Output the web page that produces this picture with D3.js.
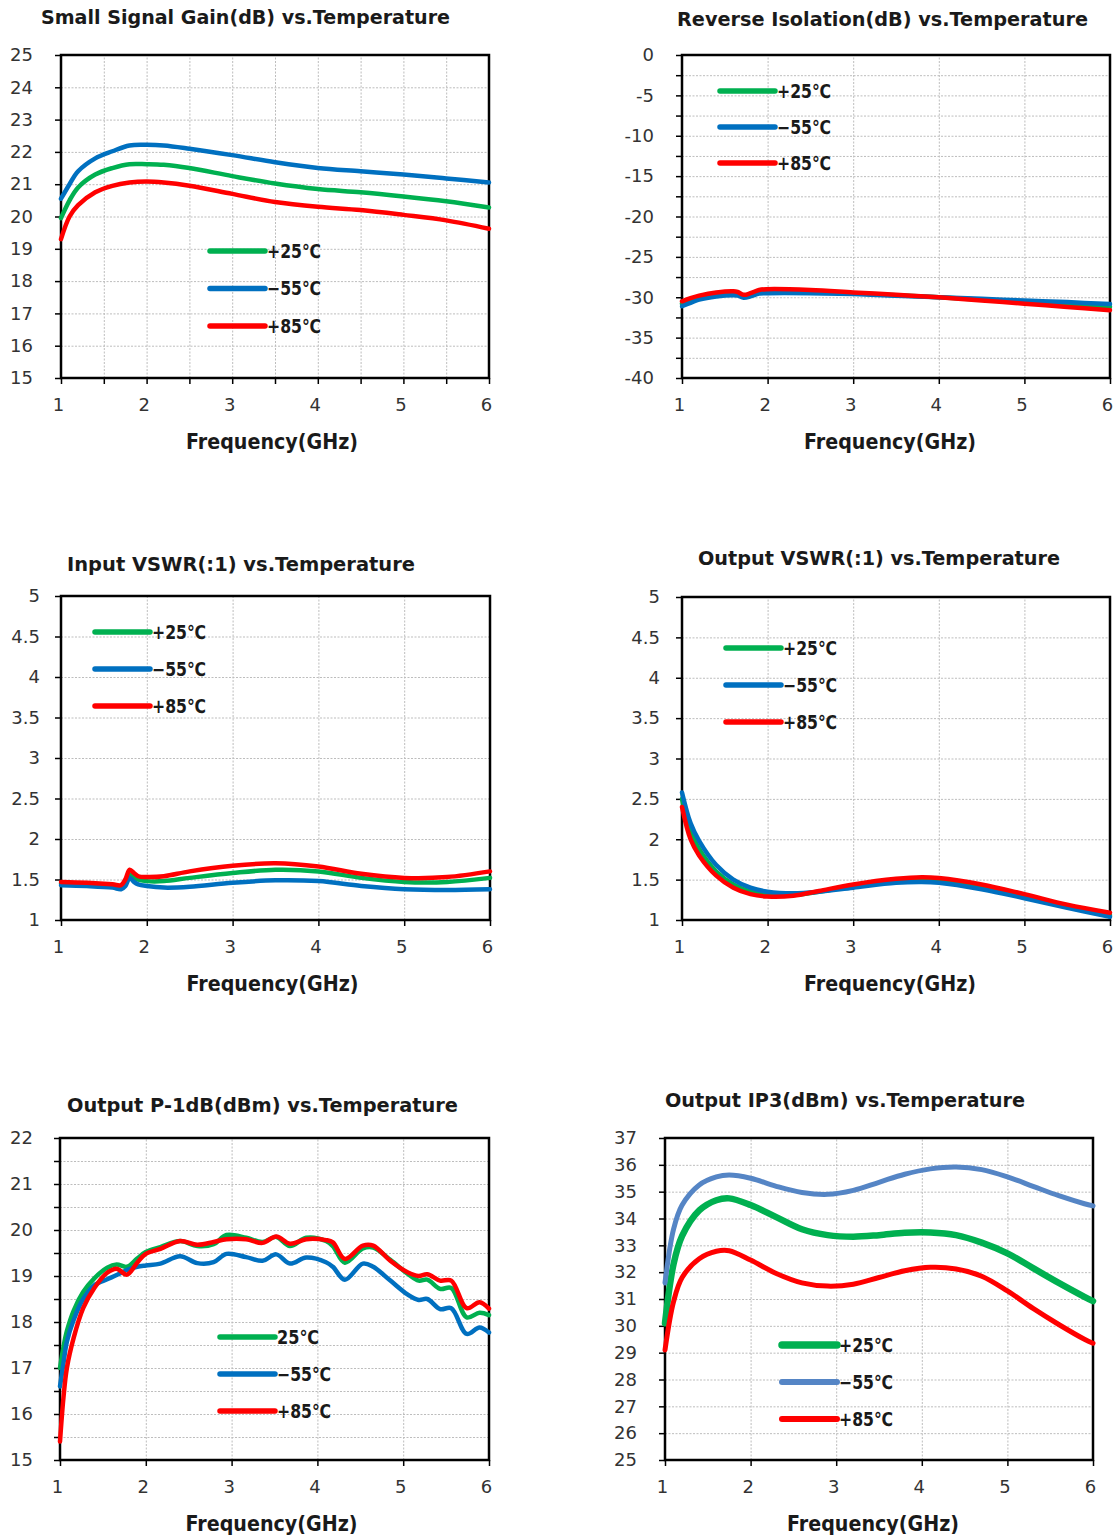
<!DOCTYPE html>
<html>
<head>
<meta charset="utf-8">
<script src="https://cdn.jsdelivr.net/npm/d3@7"></script>
<style>
    body { margin: 0; background: #ffffff; }
    .tickLabel text { font-family: "DejaVu Sans", Verdana, sans-serif; font-size: 18px; fill: #333333; }
    .gridlines line { stroke: #bdbdbd; stroke-width: 1px; stroke-dasharray: 2, 1.5; }
    .minorTicks line { stroke: #000000; stroke-width: 1.5px; }
    .chartTitle, .axesLabel, .legendLabel { font-family: "DejaVu Sans", Verdana, sans-serif; font-weight: bold; fill: #1a1a1a; }
</style>
</head>
<body>
<svg id="sheet" width="1117" height="1537"></svg>
<script>
// series labels
let seriesNames = ["+25\u2103", "\u221255\u2103", "+85\u2103"];
let p1dbNames = ["25\u2103", "\u221255\u2103", "+85\u2103"];

// Small Signal Gain (dB)
let gainFreq = [1, 1.1, 1.2, 1.4, 1.6, 1.8, 2.0, 2.2, 2.5, 3.0, 3.5, 4.0, 4.5, 5.0, 5.5, 6.0];
let gain25 = [19.95, 20.5, 20.9, 21.3, 21.5, 21.62, 21.62, 21.6, 21.5, 21.25, 21.02, 20.85, 20.75, 20.62, 20.47, 20.28];
let gainM55 = [20.55, 21.0, 21.4, 21.8, 22.02, 22.2, 22.22, 22.2, 22.1, 21.9, 21.68, 21.5, 21.4, 21.3, 21.18, 21.05];
let gain85 = [19.3, 20.0, 20.35, 20.75, 20.95, 21.05, 21.08, 21.05, 20.95, 20.7, 20.45, 20.3, 20.2, 20.05, 19.88, 19.62];

// Reverse Isolation (dB)
let isoFreq = [1, 1.1, 1.2, 1.4, 1.6, 1.65, 1.72, 1.8, 1.9, 2.0, 2.5, 3.0, 3.5, 4.0, 4.5, 5.0, 5.5, 6.0];
let iso25 = [-30.8, -30.4, -30.05, -29.65, -29.5, -29.55, -29.85, -29.7, -29.35, -29.25, -29.3, -29.5, -29.75, -30.0, -30.3, -30.6, -30.9, -31.2];
let isoM55 = [-31.1, -30.7, -30.3, -29.9, -29.75, -29.8, -30.05, -29.9, -29.55, -29.5, -29.5, -29.6, -29.8, -30.0, -30.2, -30.4, -30.6, -30.85];
let iso85 = [-30.5, -30.1, -29.8, -29.4, -29.25, -29.35, -29.7, -29.5, -29.1, -29.0, -29.1, -29.4, -29.7, -30.0, -30.4, -30.8, -31.2, -31.6];

// Input VSWR
let inFreq = [1, 1.3, 1.6, 1.7, 1.75, 1.8, 1.85, 1.9, 2.0, 2.2, 2.5, 3.0, 3.5, 4.0, 4.5, 5.0, 5.5, 6.0];
let in25 = [1.45, 1.44, 1.42, 1.41, 1.46, 1.56, 1.52, 1.5, 1.48, 1.48, 1.52, 1.58, 1.62, 1.6, 1.52, 1.47, 1.47, 1.52];
let inM55 = [1.43, 1.42, 1.4, 1.38, 1.42, 1.52, 1.47, 1.44, 1.42, 1.4, 1.41, 1.46, 1.49, 1.48, 1.42, 1.38, 1.37, 1.38];
let in85 = [1.47, 1.46, 1.44, 1.43, 1.5, 1.62, 1.58, 1.54, 1.53, 1.54, 1.6, 1.67, 1.70, 1.66, 1.57, 1.52, 1.53, 1.6];

// Output VSWR
let outFreq = [1, 1.1, 1.2, 1.4, 1.6, 1.8, 2.0, 2.3, 2.6, 3.0, 3.5, 3.8, 4.0, 4.5, 5.0, 5.5, 6.0];
let out25 = [2.5, 2.1, 1.88, 1.6, 1.44, 1.35, 1.31, 1.31, 1.35, 1.42, 1.48, 1.5, 1.49, 1.41, 1.29, 1.17, 1.06];
let outM55 = [2.58, 2.2, 1.98, 1.68, 1.5, 1.4, 1.35, 1.33, 1.35, 1.4, 1.46, 1.47, 1.46, 1.38, 1.27, 1.15, 1.04];
let out85 = [2.4, 2.0, 1.8, 1.55, 1.4, 1.32, 1.29, 1.3, 1.36, 1.44, 1.51, 1.53, 1.52, 1.44, 1.32, 1.19, 1.09];

// Output P-1dB (dBm)
let p1Freq = [1.0, 1.04, 1.08, 1.16, 1.27, 1.4, 1.55, 1.66, 1.78, 1.9, 2.0, 2.17, 2.4, 2.6, 2.79, 2.94, 3.17, 3.36, 3.52, 3.68, 3.87, 4.1, 4.18, 4.32, 4.53, 4.65, 4.85, 5.05, 5.18, 5.28, 5.43, 5.56, 5.74, 5.89, 6.0];
let p125 = [17.0, 17.45, 17.8, 18.25, 18.65, 18.95, 19.18, 19.25, 19.2, 19.38, 19.52, 19.63, 19.76, 19.65, 19.69, 19.89, 19.83, 19.74, 19.85, 19.65, 19.83, 19.76, 19.65, 19.29, 19.6, 19.62, 19.35, 19.05, 18.9, 18.92, 18.72, 18.74, 18.1, 18.2, 18.15];
let p1M55 = [16.6, 17.1, 17.57, 18.05, 18.5, 18.8, 18.93, 19.02, 19.13, 19.2, 19.23, 19.27, 19.43, 19.28, 19.3, 19.48, 19.41, 19.33, 19.47, 19.27, 19.4, 19.3, 19.2, 18.92, 19.27, 19.2, 18.9, 18.6, 18.48, 18.5, 18.28, 18.3, 17.74, 17.88, 17.77];
let p185 = [15.4, 16.35, 17.0, 17.66, 18.3, 18.74, 19.07, 19.16, 19.03, 19.29, 19.48, 19.59, 19.76, 19.68, 19.74, 19.8, 19.8, 19.72, 19.86, 19.7, 19.8, 19.78, 19.73, 19.37, 19.66, 19.66, 19.33, 19.08, 19.0, 19.04, 18.9, 18.9, 18.3, 18.43, 18.29];

// Output IP3 (dBm)
let ip3Freq = [1, 1.1, 1.2, 1.4, 1.6, 1.75, 2.0, 2.3, 2.6, 2.9, 3.2, 3.5, 3.8, 4.1, 4.4, 4.7, 5.0, 5.3, 5.6, 5.9, 6.0];
let ip325 = [30.1, 32.3, 33.35, 34.3, 34.68, 34.75, 34.5, 34.05, 33.6, 33.38, 33.32, 33.38, 33.47, 33.48, 33.38, 33.1, 32.7, 32.15, 31.6, 31.08, 30.92];
let ip3M55 = [31.6, 33.6, 34.5, 35.25, 35.55, 35.62, 35.5, 35.2, 34.97, 34.9, 35.05, 35.35, 35.65, 35.85, 35.92, 35.82, 35.55, 35.2, 34.85, 34.55, 34.47];
let ip385 = [29.1, 30.9, 31.8, 32.5, 32.78, 32.8, 32.45, 31.95, 31.6, 31.48, 31.55, 31.8, 32.05, 32.18, 32.12, 31.85, 31.3, 30.65, 30.05, 29.5, 29.35];

let freqTicks = [1, 2, 3, 4, 5, 6];

let sheet = d3.select("svg#sheet");

let panels = [
    { title: "Small Signal Gain(dB) vs.Temperature", titleX: 41, titleY: 17, titleW: 409,
      box: [61, 55, 489, 378], yDom: [15, 25], yLabelStep: 1, yGridStep: 1, xGridStep: 0.5, labelGap: 28,
      legX: 210, legY: 251, legDy: 37.5, names: seriesNames,
      freq: gainFreq, series: [gain25, gainM55, gain85], colors: ["#00b050", "#0070c0", "#ff0000"], widths: [4.5, 4.5, 4.5] },
    { title: "Reverse Isolation(dB) vs.Temperature", titleX: 677, titleY: 19, titleW: 411,
      box: [682, 55, 1110, 378], yDom: [-40, 0], yLabelStep: 5, yGridStep: 2.5, xGridStep: 1, labelGap: 28,
      legX: 720, legY: 91, legDy: 36, names: seriesNames,
      freq: isoFreq, series: [iso25, isoM55, iso85], colors: ["#00b050", "#0070c0", "#ff0000"], widths: [4.5, 4.5, 4.5] },
    { title: "Input VSWR(:1) vs.Temperature", titleX: 67, titleY: 564, titleW: 348,
      box: [61, 596, 490, 920], yDom: [1, 5], yLabelStep: 0.5, yGridStep: 0.5, xGridStep: 1, labelGap: 21,
      legX: 95, legY: 632, legDy: 37, names: seriesNames,
      freq: inFreq, series: [in25, inM55, in85], colors: ["#00b050", "#0070c0", "#ff0000"], widths: [4.5, 4.5, 4.5] },
    { title: "Output VSWR(:1) vs.Temperature", titleX: 698, titleY: 558, titleW: 362,
      box: [682, 597, 1110, 920], yDom: [1, 5], yLabelStep: 0.5, yGridStep: 0.5, xGridStep: 1, labelGap: 22,
      legX: 726, legY: 648, legDy: 37, names: seriesNames,
      freq: outFreq, series: [out25, outM55, out85], colors: ["#00b050", "#0070c0", "#ff0000"], widths: [4.5, 4.5, 4.5] },
    { title: "Output P-1dB(dBm) vs.Temperature", titleX: 67, titleY: 1105, titleW: 391,
      box: [60, 1138, 489, 1460], yDom: [15, 22], yLabelStep: 1, yGridStep: 0.5, xGridStep: 1, labelGap: 27,
      legX: 220, legY: 1337, legDy: 37, names: p1dbNames,
      freq: p1Freq, series: [p125, p1M55, p185], colors: ["#00b050", "#0070c0", "#ff0000"], widths: [4.5, 4.5, 4.5] },
    { title: "Output IP3(dBm) vs.Temperature", titleX: 665, titleY: 1100, titleW: 360,
      box: [665, 1138, 1093, 1460], yDom: [25, 37], yLabelStep: 1, yGridStep: 1, xGridStep: 1, labelGap: 28,
      legX: 782, legY: 1345, legDy: 37, names: seriesNames,
      freq: ip3Freq, series: [ip325, ip3M55, ip385], colors: ["#00b050", "#5585c5", "#ff0000"], widths: [6.5, 5, 5] }
];

function stepValues(lo, hi, step) {
    let n = Math.round((hi - lo) / step);
    return d3.range(0, n + 1).map(i => +(lo + i * step).toFixed(3));
}

panels.forEach(function (p) {
    let [bx0, by0, bx1, by1] = p.box;
    let w = bx1 - bx0, h = by1 - by0;
    let g = sheet.append("g").attr("transform", "translate(" + bx0 + "," + by0 + ")");

    let xScale = d3.scaleLinear().domain([1, 6]).range([0, w]);
    let yScale = d3.scaleLinear().domain(p.yDom).range([h, 0]);

    let yGridVals = stepValues(p.yDom[0], p.yDom[1], p.yGridStep);
    let xGridVals = stepValues(1, 6, p.xGridStep);
    let yLabelVals = stepValues(p.yDom[0], p.yDom[1], p.yLabelStep);

    // gridlines
    g.append("g").attr("class", "gridlines")
        .call(d3.axisLeft(yScale).tickValues(yGridVals).tickSize(-w).tickFormat(""));
    g.append("g").attr("class", "gridlines")
        .attr("transform", "translate(0," + h + ")")
        .call(d3.axisBottom(xScale).tickValues(xGridVals).tickSize(-h).tickFormat(""));

    // outside tick marks
    g.append("g").attr("class", "minorTicks")
        .call(d3.axisLeft(yScale).tickValues(yGridVals).tickSize(6).tickFormat(""));
    g.append("g").attr("class", "minorTicks")
        .attr("transform", "translate(0," + h + ")")
        .call(d3.axisBottom(xScale).tickValues(xGridVals).tickSize(6).tickFormat(""));

    // tick labels
    g.append("g").attr("class", "tickLabel")
        .call(d3.axisLeft(yScale).tickValues(yLabelVals).tickSize(0).tickPadding(p.labelGap)
            .tickFormat(d => String(+d.toFixed(1))));
    let xl = g.append("g").attr("class", "tickLabel")
        .attr("transform", "translate(0," + h + ")")
        .call(d3.axisBottom(xScale).tickValues(freqTicks).tickSize(0).tickPadding(20).tickFormat(d3.format("d")));
    xl.selectAll("text").attr("dx", "-3");

    d3.selectAll("path.domain").remove();

    // plot frame
    g.append("rect").attr("x", 0).attr("y", 0).attr("width", w).attr("height", h)
        .attr("fill", "none").attr("stroke", "#000000").attr("stroke-width", 2.5);

    // curves
    let path = d3.line().curve(d3.curveCatmullRom.alpha(0.5))
        .x(d => xScale(d[0])).y(d => yScale(d[1]));
    p.series.forEach(function (vals, i) {
        let pts = p.freq.map((f, k) => [f, vals[k]]);
        g.append("path").datum(pts).attr("d", path)
            .attr("fill", "none").attr("stroke", p.colors[i])
            .attr("stroke-width", p.widths[i]).attr("stroke-linejoin", "round").attr("stroke-linecap", "round");
    });

    // legend
    p.names.forEach(function (name, i) {
        let ly = p.legY + i * p.legDy;
        sheet.append("line").attr("x1", p.legX).attr("x2", p.legX + 55).attr("y1", ly).attr("y2", ly)
            .attr("stroke", p.colors[i]).attr("stroke-width", p.widths[i] + 1).attr("stroke-linecap", "round");
        sheet.append("text").attr("class", "legendLabel")
            .attr("x", p.legX + 57).attr("y", ly).attr("dy", "0.36em")
            .style("font-size", "19px")
            .attr("textLength", name.length === 3 ? 42 : 54).attr("lengthAdjust", "spacingAndGlyphs")
            .text(name);
    });

    // titles
    sheet.append("text").attr("class", "chartTitle")
        .attr("x", p.titleX).attr("y", p.titleY).attr("dy", "0.36em")
        .style("font-size", "20px")
        .attr("textLength", p.titleW).attr("lengthAdjust", "spacingAndGlyphs")
        .text(p.title);
    sheet.append("text").attr("class", "axesLabel")
        .attr("x", bx0 + (bx1 - bx0) / 2 - 3 + (bx0 > 600 ? -3 : 0)).attr("y", by1 + 63).attr("dy", "0.36em")
        .style("text-anchor", "middle").style("font-size", "21px")
        .attr("textLength", 172).attr("lengthAdjust", "spacingAndGlyphs")
        .text("Frequency(GHz)");
});
</script>
</body>
</html>
